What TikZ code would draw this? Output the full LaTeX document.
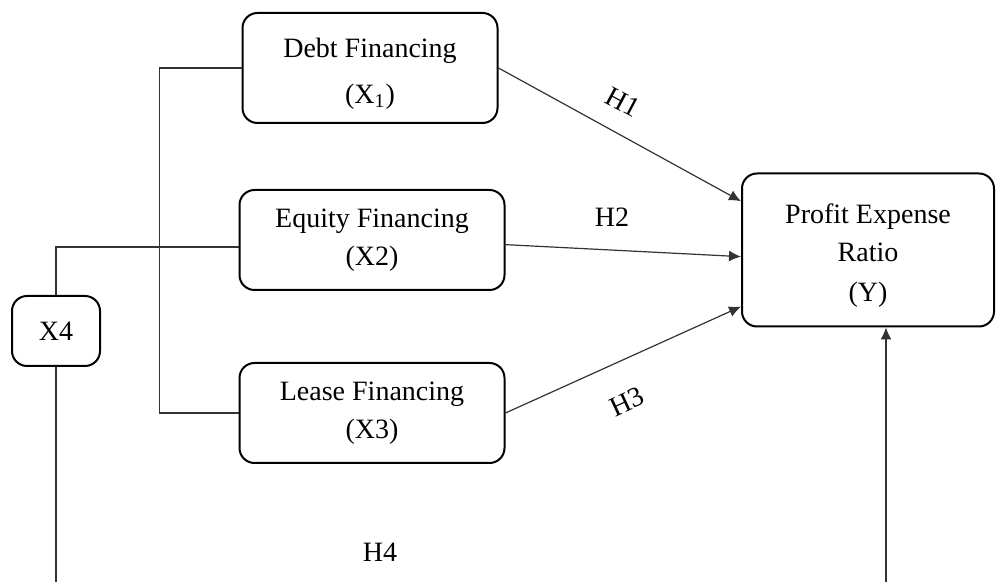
\documentclass[tikz,border=0pt]{standalone}
\usepackage{fontspec}
\setmainfont{Liberation Serif}
\usetikzlibrary{arrows.meta}

\begin{document}
\begin{tikzpicture}[x=0.5pt, y=0.5pt,
    var/.style={draw, line width=1pt, rounded corners=7.5pt, align=center,
        font=\fontsize{14}{19}\selectfont},
    link/.style={draw=black!80, line width=0.6pt},
    hyp/.style={link, -{Latex[length=6pt,width=5.5pt]}},
    lab/.style={font=\fontsize{14}{17}\selectfont}]
    \useasboundingbox (0,0) rectangle (996,582);

    % Variables
    \node[var, minimum width=127.5pt, minimum height=55pt] (debt) at (370,514)
        {\rule{0pt}{15pt}Debt Financing\\[4pt](X\textsubscript{1})};
    \node[var, minimum width=132.5pt, minimum height=50pt] (equity) at (372,342)
        {Equity Financing\\(X2)};
    \node[var, minimum width=132.5pt, minimum height=50pt] (lease) at (372,169)
        {Lease Financing\\(X3)};
    \node[var, minimum width=126pt, minimum height=76.5pt] (Y) at (868,332)
        {\rule{0pt}{15pt}Profit Expense\\Ratio\\[1pt](Y)};
    \node[var, minimum width=44pt, minimum height=35pt] (X4) at (56,251) {X4};

    % Bottom ends
    \coordinate (x4end) at (X4.south |- 0,-2);
    \coordinate (yin) at (886,-2);

    % Bracket and X4 lines
    \draw[link] (debt.west) -- ++(-82,0) |- (lease.west);
    \draw[link] (X4.north) |- (equity.183);
    \draw[link] (X4.south) -- (x4end);
    \draw[hyp] (yin) -- (yin |- Y.south);

    % Hypotheses
    \draw[hyp] (debt.east) -- (Y.159);
    \draw[hyp] (equity.-2) -- (Y.183);
    \draw[hyp] (lease.east) -- (Y.204);

    % Labels
    \node[lab, rotate=-28] (h1) at (623,480) {H1};
    \node[lab] (h2) at (612,365) {H2};
    \node[lab, rotate=25] (h3) at (627,180) {H3};
    \node[lab] (h4) at (380,30) {H4};
\end{tikzpicture}
\end{document}
